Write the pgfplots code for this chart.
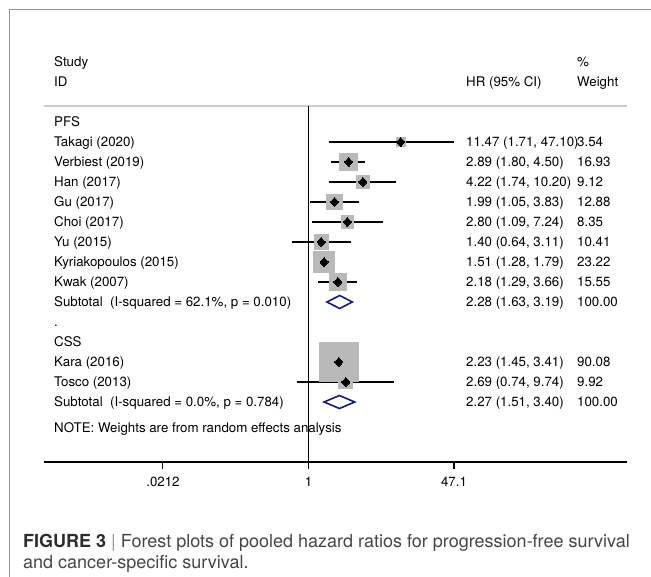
\documentclass[border=0pt]{standalone}
\usepackage{pgfplots}
\usepackage{pgfplotstable}
\pgfplotsset{compat=1.18}
\usepackage{fontspec}
\setmainfont{TeX Gyre Heros}
\definecolor{boxgray}{RGB}{185,185,185}
\definecolor{navyd}{RGB}{22,28,120}
\definecolor{framegray}{RGB}{150,150,150}
\definecolor{hdrgray}{RGB}{205,205,205}
\definecolor{capdark}{RGB}{45,45,45}
\definecolor{captext}{RGB}{70,70,70}

% study-level estimates: HR, lower, upper, weight, row position
\pgfplotstableread{
hr    lo    hi     w      y
11.47 1.71  47.10  3.54   -142
2.89  1.80  4.50   16.93  -162
4.22  1.74  10.20  9.12   -182
1.99  1.05  3.83   12.88  -202
2.80  1.09  7.24   8.35   -222
1.40  0.64  3.11   10.41  -242
1.51  1.28  1.79   23.22  -262
2.18  1.29  3.66   15.55  -282
2.23  1.45  3.41   90.08  -362
2.69  0.74  9.74   9.92   -382
}\studies

\newcommand\T[3]{\node[anchor=base west, inner sep=0pt] at (#1pt,-#2pt) {#3};}

\begin{document}
\begin{tikzpicture}[font=\fontsize{13.3}{15}\selectfont]
\useasboundingbox (0,0) rectangle (651pt,-577pt);
\fill[white] (0,0) rectangle (651pt,-577pt);
\draw[framegray, line width=0.8pt] (9pt,-577pt) -- (9pt,-9pt) -- (651pt,-9pt);

\begin{axis}[
  at={(44pt,-462pt)}, anchor=south west,
  scale only axis, width=583pt, height=356pt,
  xmode=log, xmin=0.000909, xmax=4597,
  ymin=-462, ymax=-106,
  axis x line*=bottom, axis y line=none,
  axis line style={line width=1.1pt},
  tick align=outside, major tick length=6.5pt,
  every tick/.style={black, line width=1.1pt},
  xtick={0.0212,1,47.1}, xticklabels={{.0212},{1},{47.1}},
  minor xtick={},
  xticklabel style={font=\fontsize{13.3}{15}\selectfont, yshift=-5pt},
  clip=false,
]
\draw[hdrgray, line width=1.2pt] (rel axis cs:0,1) -- (rel axis cs:1,1);
\addplot[black, line width=1.1pt, mark=none] coordinates {(1,-106) (1,-462)};
% weight boxes
\addplot[only marks, mark=square*, scatter, draw=boxgray, fill=boxgray,
  mark options={draw=boxgray, fill=boxgray, line width=0pt},
  scatter/use mapped color={draw=boxgray, fill=boxgray},
  visualization depends on={2.0*sqrt(\thisrow{w})+0.6 \as \msz},
  scatter/@pre marker code/.append style={/tikz/mark size=\msz}]
  table[x=hr, y=y] {\studies};
% CIs and point estimates
\addplot[only marks, mark=diamond*, mark size=4.5pt, black,
  mark options={xscale=1.2, draw=black, fill=black, line width=0pt},
  error bars/.cd, x dir=both, x explicit, error mark=none,
  error bar style={line width=1.8pt, black}]
  table[x=hr, y=y, x error plus expr=\thisrow{hi}-\thisrow{hr},
        x error minus expr=\thisrow{hr}-\thisrow{lo}] {\studies};
% subtotal diamonds
\addplot[navyd, line width=1.6pt, mark=none, line join=miter]
  coordinates {(1.63,-302) (2.28,-295.5) (3.19,-302) (2.28,-308.5)} -- cycle;
\addplot[navyd, line width=1.6pt, mark=none, line join=miter]
  coordinates {(1.51,-402) (2.27,-395.5) (3.40,-402) (2.27,-408.5)} -- cycle;
\end{axis}

\T{54}{66.7}{Study}
\T{54}{86.7}{ID}
\T{466}{86.7}{HR (95\% CI)}
\T{577}{66.7}{\%}
\T{577}{86.7}{Weight}

\T{54}{126.7}{PFS}
\T{54}{146.7}{Takagi (2020)}
\T{54}{166.7}{Verbiest (2019)}
\T{54}{186.7}{Han (2017)}
\T{54}{206.7}{Gu (2017)}
\T{54}{226.7}{Choi (2017)}
\T{54}{246.7}{Yu (2015)}
\T{54}{266.7}{Kyriakopoulos (2015)}
\T{54}{286.7}{Kwak (2007)}
\T{54}{306.7}{Subtotal\ \ (I-squared = 62.1\%, p = 0.010)}
\T{54}{326.7}{.}
\T{54}{346.7}{CSS}
\T{54}{366.7}{Kara (2016)}
\T{54}{386.7}{Tosco (2013)}
\T{54}{406.7}{Subtotal\ \ (I-squared = 0.0\%, p = 0.784)}
\T{54}{432}{NOTE: Weights are from random effects analysis}

\T{466}{146.7}{11.47 (1.71, 47.10)}
\T{466}{166.7}{2.89 (1.80, 4.50)}
\T{466}{186.7}{4.22 (1.74, 10.20)}
\T{466}{206.7}{1.99 (1.05, 3.83)}
\T{466}{226.7}{2.80 (1.09, 7.24)}
\T{466}{246.7}{1.40 (0.64, 3.11)}
\T{466}{266.7}{1.51 (1.28, 1.79)}
\T{466}{286.7}{2.18 (1.29, 3.66)}
\T{466}{306.7}{2.28 (1.63, 3.19)}
\T{466}{366.7}{2.23 (1.45, 3.41)}
\T{466}{386.7}{2.69 (0.74, 9.74)}
\T{466}{406.7}{2.27 (1.51, 3.40)}

\T{577}{146.7}{3.54}
\T{577}{166.7}{16.93}
\T{577}{186.7}{9.12}
\T{577}{206.7}{12.88}
\T{577}{226.7}{8.35}
\T{577}{246.7}{10.41}
\T{577}{266.7}{23.22}
\T{577}{286.7}{15.55}
\T{577}{306.7}{100.00}
\T{577}{366.7}{90.08}
\T{577}{386.7}{9.92}
\T{577}{406.7}{100.00}

\begin{scope}[font=\fontsize{18}{21}\selectfont]
\T{23}{547}{\textcolor{capdark}{\textbf{FIGURE 3}} \textcolor{framegray}{|} \textcolor{captext}{Forest plots of pooled hazard ratios for progression-free survival}}
\T{23}{568}{\textcolor{captext}{and cancer-specific survival.}}
\end{scope}
\end{tikzpicture}
\end{document}
